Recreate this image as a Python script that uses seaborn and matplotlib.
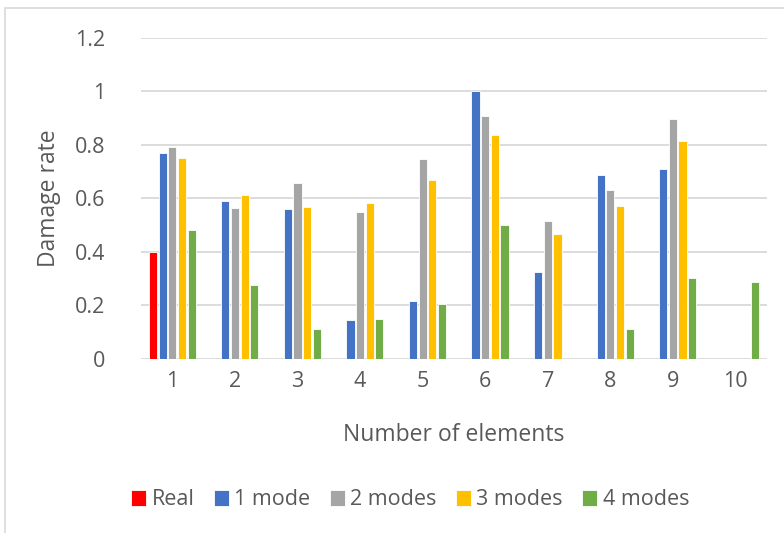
import numpy as np
import pandas as pd
import matplotlib
matplotlib.use("Agg")
import matplotlib.pyplot as plt
from matplotlib.patches import Rectangle
import seaborn as sns

# Damage rate per element, estimated with different numbers of modes
elements = ["1", "2", "3", "4", "5", "6", "7", "8", "9", "10"]
real = [0.40, np.nan, np.nan, np.nan, np.nan, np.nan, np.nan, np.nan, np.nan, np.nan]
mode1 = [0.769, 0.589, 0.561, 0.147, 0.215, 1.0, 0.326, 0.687, 0.709, np.nan]
mode2 = [0.793, 0.565, 0.657, 0.550, 0.746, 0.909, 0.517, 0.632, 0.898, np.nan]
mode3 = [0.751, 0.614, 0.567, 0.583, 0.669, 0.837, 0.468, 0.572, 0.816, np.nan]
mode4 = [0.481, 0.277, 0.113, 0.150, 0.205, 0.501, np.nan, 0.112, 0.303, 0.287]

series_names = ["Real", "1 mode", "2 modes", "3 modes", "4 modes"]
series_values = [real, mode1, mode2, mode3, mode4]
colors = ["#FF0000", "#4472C4", "#A5A5A5", "#FFC000", "#70AD47"]

rows = []
for name, vals in zip(series_names, series_values):
    for el, v in zip(elements, vals):
        rows.append({"element": el, "series": name, "rate": v})
df = pd.DataFrame(rows)

sns.set_theme(style="white")
plt.rcParams["font.family"] = ["Open Sans", "DejaVu Sans"]
text_color = "#595959"

fig = plt.figure(figsize=(7.84, 5.33), dpi=100)
ax = fig.add_axes([0.18, 0.3265, 0.798, 0.6022])

sns.barplot(data=df, x="element", y="rate", hue="series", order=elements,
            hue_order=series_names, palette=colors, saturation=1,
            width=0.77, gap=0.15, edgecolor="white", linewidth=0.6,
            errorbar=None, ax=ax, legend=True)

ax.set_ylim(0, 1.2)
ax.set_xlim(-0.5, len(elements) - 0.5)
ax.set_yticks([0, 0.2, 0.4, 0.6, 0.8, 1.0, 1.2])
ax.set_yticklabels(["0", "0.2", "0.4", "0.6", "0.8", "1", "1.2"])
ax.yaxis.grid(True, color="#D9D9D9", linewidth=1.3)
ax.set_axisbelow(True)
for s in ax.spines.values():
    s.set_visible(False)
ax.tick_params(axis="both", length=0, labelsize=15.5, colors=text_color)
ax.tick_params(axis="y", pad=26)
ax.tick_params(axis="x", pad=9)
ax.set_xlabel("Number of elements", fontsize=16.5, color=text_color, labelpad=22)
ax.set_ylabel("Damage rate", fontsize=16.5, color=text_color, labelpad=10)

handles, labels = ax.get_legend_handles_labels()
ax.get_legend().remove()
fig.legend(handles, labels, loc="center", bbox_to_anchor=(0.523, 0.062),
           ncol=5, frameon=False, fontsize=15.5, handlelength=0.7,
           handleheight=0.75, handletextpad=0.25, columnspacing=0.9,
           labelcolor=text_color)

# Light chart-area border
fig.patches.append(Rectangle((5 / 784, -0.1), 1.2, 1 - 8 / 533 + 0.1,
                             transform=fig.transFigure, fill=False,
                             edgecolor="#D9D9D9", linewidth=1.2))

fig.savefig("out.png", dpi=100)
